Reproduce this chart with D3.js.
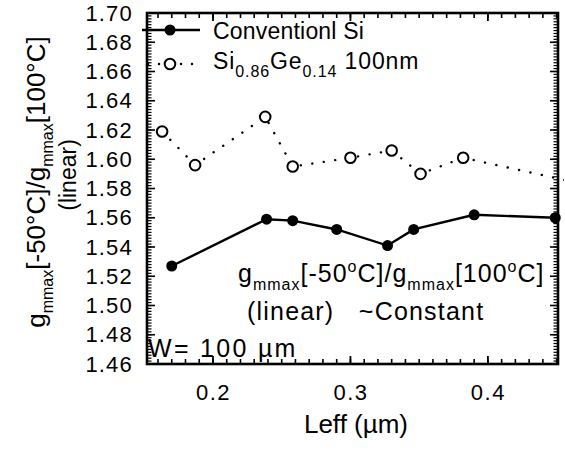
<!DOCTYPE html>
<html><head><meta charset="utf-8">
<script src="https://cdn.jsdelivr.net/npm/d3@7"></script>
<style>
body{margin:0;background:#fff;}
svg{display:block;font-family:"Liberation Sans",Arial,Helvetica,sans-serif;}
</style></head>
<body><svg id="c" width="565" height="450"></svg>
<script>
// Data
const convLeff  = [0.170, 0.239, 0.258, 0.290, 0.327, 0.346, 0.390, 0.449];
const convRatio = [1.527, 1.559, 1.558, 1.552, 1.541, 1.552, 1.562, 1.560];
const sigeLeff  = [0.163, 0.187, 0.238, 0.258, 0.300, 0.330, 0.351, 0.382, 0.460];
const sigeRatio = [1.619, 1.596, 1.629, 1.595, 1.601, 1.606, 1.590, 1.601, 1.585];
const xTicks = [0.2, 0.3, 0.4];
const yTicks = [1.46,1.48,1.50,1.52,1.54,1.56,1.58,1.60,1.62,1.64,1.66,1.68,1.70];
const xDomain = [0.152, 0.451];
const yDomain = [1.46, 1.70];

const svg = d3.select("#c");
const L = 147, T = 13, R = 558, B = 364;
const x = d3.scaleLinear().domain(xDomain).range([L, R]);
const y = d3.scaleLinear().domain(yDomain).range([B, T]);

svg.append("defs").append("clipPath").attr("id","clip")
  .append("rect").attr("x",L-8).attr("y",T-8).attr("width",R-L+14).attr("height",B-T+16);

const xMinor = d3.range(16, 46).map(v=>v/100);
const yMinor = d3.range(730, 851).map(v=>v/500);

// frame
svg.append("rect").attr("x",L).attr("y",T).attr("width",R-L).attr("height",B-T)
  .attr("fill","none").attr("stroke","#000").attr("stroke-width",2.6);

const tk = svg.append("g").attr("stroke","#000");
function xt(vals, len, w){
  vals.forEach(d=>{
    tk.append("line").attr("x1",x(d)).attr("x2",x(d)).attr("y1",B).attr("y2",B-len).attr("stroke-width",w);
    tk.append("line").attr("x1",x(d)).attr("x2",x(d)).attr("y1",T).attr("y2",T+len).attr("stroke-width",w);
  });
}
function yt(vals, len, w){
  vals.forEach(d=>{
    tk.append("line").attr("y1",y(d)).attr("y2",y(d)).attr("x1",L).attr("x2",L+len).attr("stroke-width",w);
    tk.append("line").attr("y1",y(d)).attr("y2",y(d)).attr("x1",R).attr("x2",R-len).attr("stroke-width",w);
  });
}
xt(xMinor, 5, 1.6); xt(xTicks, 8, 1.8);
yt(yMinor, 4.5, 1.2); yt(yTicks, 8, 1.6);

function styleAxis(g){ g.select(".domain").remove(); g.selectAll("line").remove(); }
svg.append("g").attr("transform",`translate(0,${B})`)
  .call(d3.axisBottom(x).tickValues(xTicks).tickSize(0).tickPadding(20).tickFormat(d3.format(".1f")))
  .call(styleAxis).selectAll("text").attr("font-size",22).attr("letter-spacing",1.5).attr("fill","#000");
svg.append("g").attr("transform",`translate(${L},0)`)
  .call(d3.axisLeft(y).tickValues(yTicks).tickSize(0).tickPadding(14).tickFormat(d3.format(".2f")))
  .call(styleAxis).selectAll("text").attr("font-size",22).attr("letter-spacing",1.2).attr("fill","#000");

const plot = svg.append("g").attr("clip-path","url(#clip)");
const conv = convLeff.map((v,i)=>[v,convRatio[i]]);
const sige = sigeLeff.map((v,i)=>[v,sigeRatio[i]]);
const line = d3.line().x(d=>x(d[0])).y(d=>y(d[1]));

plot.append("path").datum(sige).attr("d",line).attr("fill","none").attr("stroke","#000")
  .attr("stroke-width",2.4).attr("stroke-linecap","round").attr("stroke-dasharray","0.1,11.5");
plot.append("path").datum(conv).attr("d",line).attr("fill","none").attr("stroke","#000").attr("stroke-width",2.4);
plot.selectAll("circle.o").data(sige).join("circle").attr("class","o")
  .attr("cx",d=>x(d[0])).attr("cy",d=>y(d[1])).attr("r",5.3).attr("fill","#fff").attr("stroke","#000").attr("stroke-width",2);
plot.selectAll("circle.f").data(conv).join("circle").attr("class","f")
  .attr("cx",d=>x(d[0])).attr("cy",d=>y(d[1])).attr("r",5.5).attr("fill","#000");

// legend
const lg = svg.append("g");
lg.append("line").attr("x1",142).attr("x2",200).attr("y1",30).attr("y2",30).attr("stroke","#000").attr("stroke-width",2.4);
lg.append("circle").attr("cx",170).attr("cy",30).attr("r",5.5).attr("fill","#000");
lg.append("line").attr("x1",148).attr("x2",192).attr("y1",64).attr("y2",64).attr("stroke","#000")
  .attr("stroke-width",2.4).attr("stroke-linecap","round").attr("stroke-dasharray","0.1,10.9");
lg.append("circle").attr("cx",170).attr("cy",64).attr("r",5.3).attr("fill","#fff").attr("stroke","#000").attr("stroke-width",2);
lg.append("text").attr("x",213).attr("y",39).attr("font-size",23).attr("letter-spacing",0.2).text("Conventionl Si");
const t2 = lg.append("text").attr("x",213).attr("y",69).attr("font-size",23).attr("letter-spacing",0.9);
t2.append("tspan").text("Si");
t2.append("tspan").attr("font-size",16).attr("dy",8).text("0.86");
t2.append("tspan").attr("dy",-8).text("Ge");
t2.append("tspan").attr("font-size",16).attr("dy",8).text("0.14");
t2.append("tspan").attr("dy",-8).text(" 100nm");

function ratioText(sel, sub, supO){
  sel.append("tspan").text("g");
  sel.append("tspan").attr("font-size",sub).attr("dy",8).text("mmax");
  if(supO){
    sel.append("tspan").attr("dy",-8).text("[-50");
    sel.append("tspan").attr("font-size",sub).attr("dy",-10).text("o");
    sel.append("tspan").attr("dy",10).text("C]/g");
  } else sel.append("tspan").attr("dy",-8).text("[-50°C]/g");
  sel.append("tspan").attr("font-size",sub).attr("dy",8).text("mmax");
  if(supO){
    sel.append("tspan").attr("dy",-8).text("[100");
    sel.append("tspan").attr("font-size",sub).attr("dy",-10).text("o");
    sel.append("tspan").attr("dy",10).text("C]");
  } else sel.append("tspan").attr("dy",-8).text("[100°C]");
}
const a1 = svg.append("text").attr("x",238).attr("y",282).attr("font-size",25).attr("letter-spacing",1.0);
ratioText(a1,16,true);
svg.append("text").attr("x",247).attr("y",320).attr("font-size",25).attr("letter-spacing",1.2).attr("xml:space","preserve").text("(linear)   ~Constant");
svg.append("text").attr("x",148).attr("y",357).attr("font-size",25).attr("letter-spacing",2.3).text("W= 100 µm");

svg.append("text").attr("x",356).attr("y",433).attr("text-anchor","middle").attr("font-size",26).text("Leff (µm)");
const yl = svg.append("text").attr("transform","translate(45,182) rotate(-90)").attr("text-anchor","middle").attr("font-size",26);
ratioText(yl,16,false);
svg.append("text").attr("transform","translate(76,175) rotate(-90)").attr("text-anchor","middle").attr("font-size",23).text("(linear)");
</script></body></html>
